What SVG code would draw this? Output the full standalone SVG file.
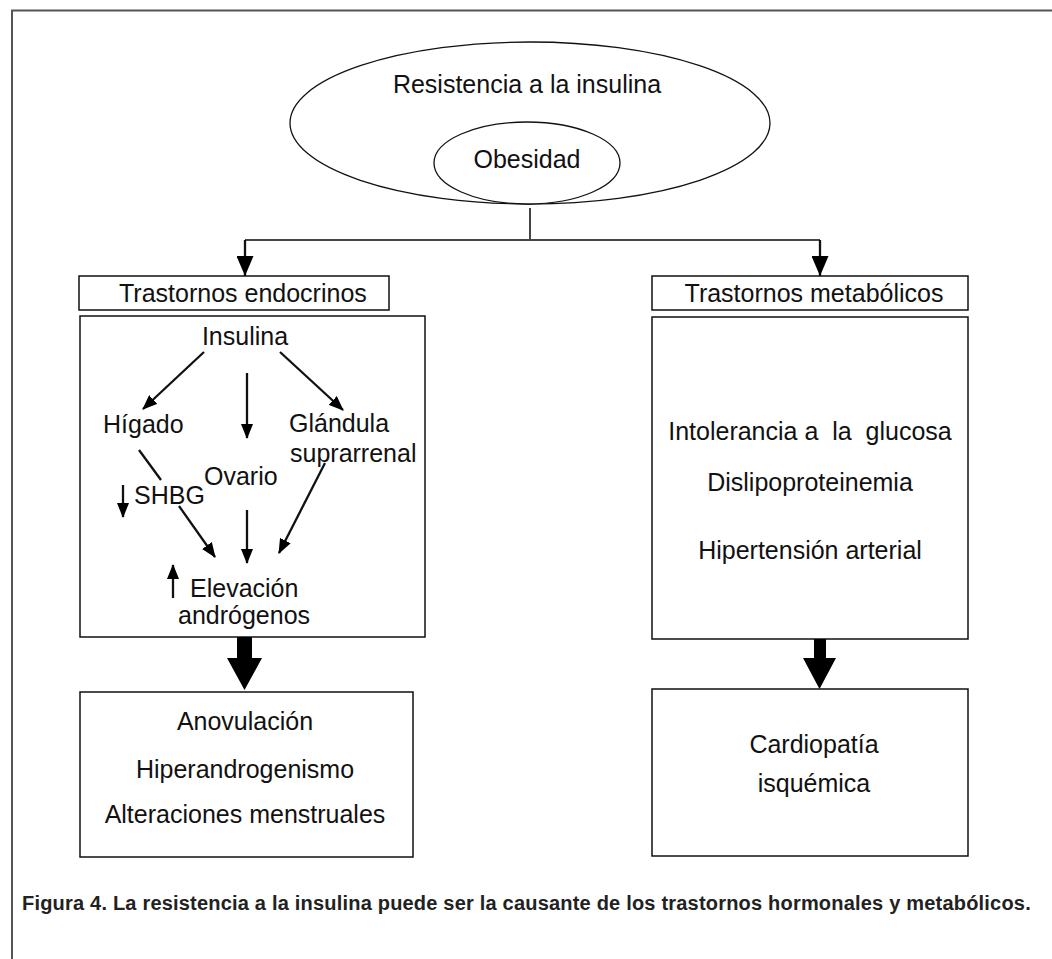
<svg xmlns="http://www.w3.org/2000/svg" width="1052" height="959" viewBox="0 0 1052 959">
<defs>
<style>
text{font-family:"Liberation Sans",Arial,sans-serif;font-size:25px;fill:#111}
.m{text-anchor:middle}
.box{fill:#fff;stroke:#111;stroke-width:1.5}
.ln{stroke:#111;stroke-width:2.3;fill:none}
.cap{font-family:"Liberation Sans",Arial,sans-serif;font-weight:bold;font-size:20px;letter-spacing:0.2px;fill:#222}
</style>
<marker id="ah" viewBox="0 0 15 12" refX="14" refY="6" markerWidth="15" markerHeight="12" markerUnits="userSpaceOnUse" orient="auto"><path d="M0,0L15,6L0,12z" fill="#000"/></marker>
<marker id="big" viewBox="0 0 20 17" refX="20" refY="8.5" markerWidth="20" markerHeight="17" markerUnits="userSpaceOnUse" orient="auto"><path d="M0,0L20,8.5L0,17z" fill="#000"/></marker>
</defs>
<g id="frame"><path d="M1052,10.5H12V959" fill="none" stroke="#555" stroke-width="2"/></g>
<g id="resistencia"><ellipse cx="530" cy="123" rx="240" ry="81" fill="#fff" stroke="#111" stroke-width="1.3"/><text class="m" x="527" y="93">Resistencia a la insulina</text></g>
<g id="obesidad"><ellipse cx="527" cy="163" rx="93" ry="41" fill="#fff" stroke="#111" stroke-width="1.3"/><text class="m" x="527" y="168">Obesidad</text></g>
<g id="endocrinos"><rect class="box" x="79" y="276" width="310" height="34"/><text x="119" y="302">Trastornos endocrinos</text></g>
<g id="endocrinos-detalle"><rect class="box" x="80" y="316" width="345" height="321"/>
<text class="m" x="245" y="345">Insulina</text>
<text x="103" y="433">Hígado</text>
<text x="289" y="432">Glándula</text>
<text x="290" y="462">suprarrenal</text>
<text x="204" y="485">Ovario</text>
<text x="134" y="504">SHBG</text>
<text x="190" y="597">Elevación</text>
<text x="178" y="624">andrógenos</text>
</g>
<g id="consecuencias-endocrinas"><rect class="box" x="80" y="692" width="333" height="165"/>
<text class="m" x="245" y="730">Anovulación</text>
<text class="m" x="245" y="778">Hiperandrogenismo</text>
<text class="m" x="245" y="823">Alteraciones menstruales</text>
</g>
<g id="metabolicos"><rect class="box" x="652" y="276" width="316" height="34"/><text class="m" x="814" y="302">Trastornos metabólicos</text></g>
<g id="metabolicos-detalle"><rect class="box" x="652" y="317" width="316" height="322"/>
<text class="m" x="810" y="440" style="white-space:pre">Intolerancia a  la  glucosa</text>
<text class="m" x="810" y="491">Dislipoproteinemia</text>
<text class="m" x="810" y="559">Hipertensión arterial</text>
</g>
<g id="cardiopatia"><rect class="box" x="652" y="689" width="316" height="167"/>
<text class="m" x="814" y="753">Cardiopatía</text>
<text class="m" x="814" y="792">isquémica</text>
</g>
<g id="connectors">
<path d="M530,208V240M245,240H820" fill="none" stroke="#444" stroke-width="2"/>
<path d="M245,240V276" class="ln" stroke-width="1.5" marker-end="url(#big)"/>
<path d="M820,240V276" class="ln" stroke-width="1.5" marker-end="url(#big)"/>
<path d="M204,352L143,409" class="ln" marker-end="url(#ah)"/>
<path d="M247,373V438" class="ln" marker-end="url(#ah)"/>
<path d="M280,352L343,410" class="ln" marker-end="url(#ah)"/>
<path d="M139,450L161,480" class="ln"/>
<path d="M179,506L215,557" class="ln" marker-end="url(#ah)"/>
<path d="M123,485V517" class="ln" marker-end="url(#ah)"/>
<path d="M247,510V563" class="ln" marker-end="url(#ah)"/>
<path d="M325,463L279,553" class="ln" marker-end="url(#ah)"/>
<path d="M173,598V565" class="ln" marker-end="url(#ah)"/>
<path d="M237,637H252V658H262L244.5,690L227,658H237Z" fill="#000"/>
<path d="M814,639H826V658H836L819.5,689L803,658H814Z" fill="#000"/>
</g>
<g id="caption"><text class="cap" x="22" y="910">Figura 4. La resistencia a la insulina puede ser la causante de los trastornos hormonales y metabólicos.</text></g>
</svg>
